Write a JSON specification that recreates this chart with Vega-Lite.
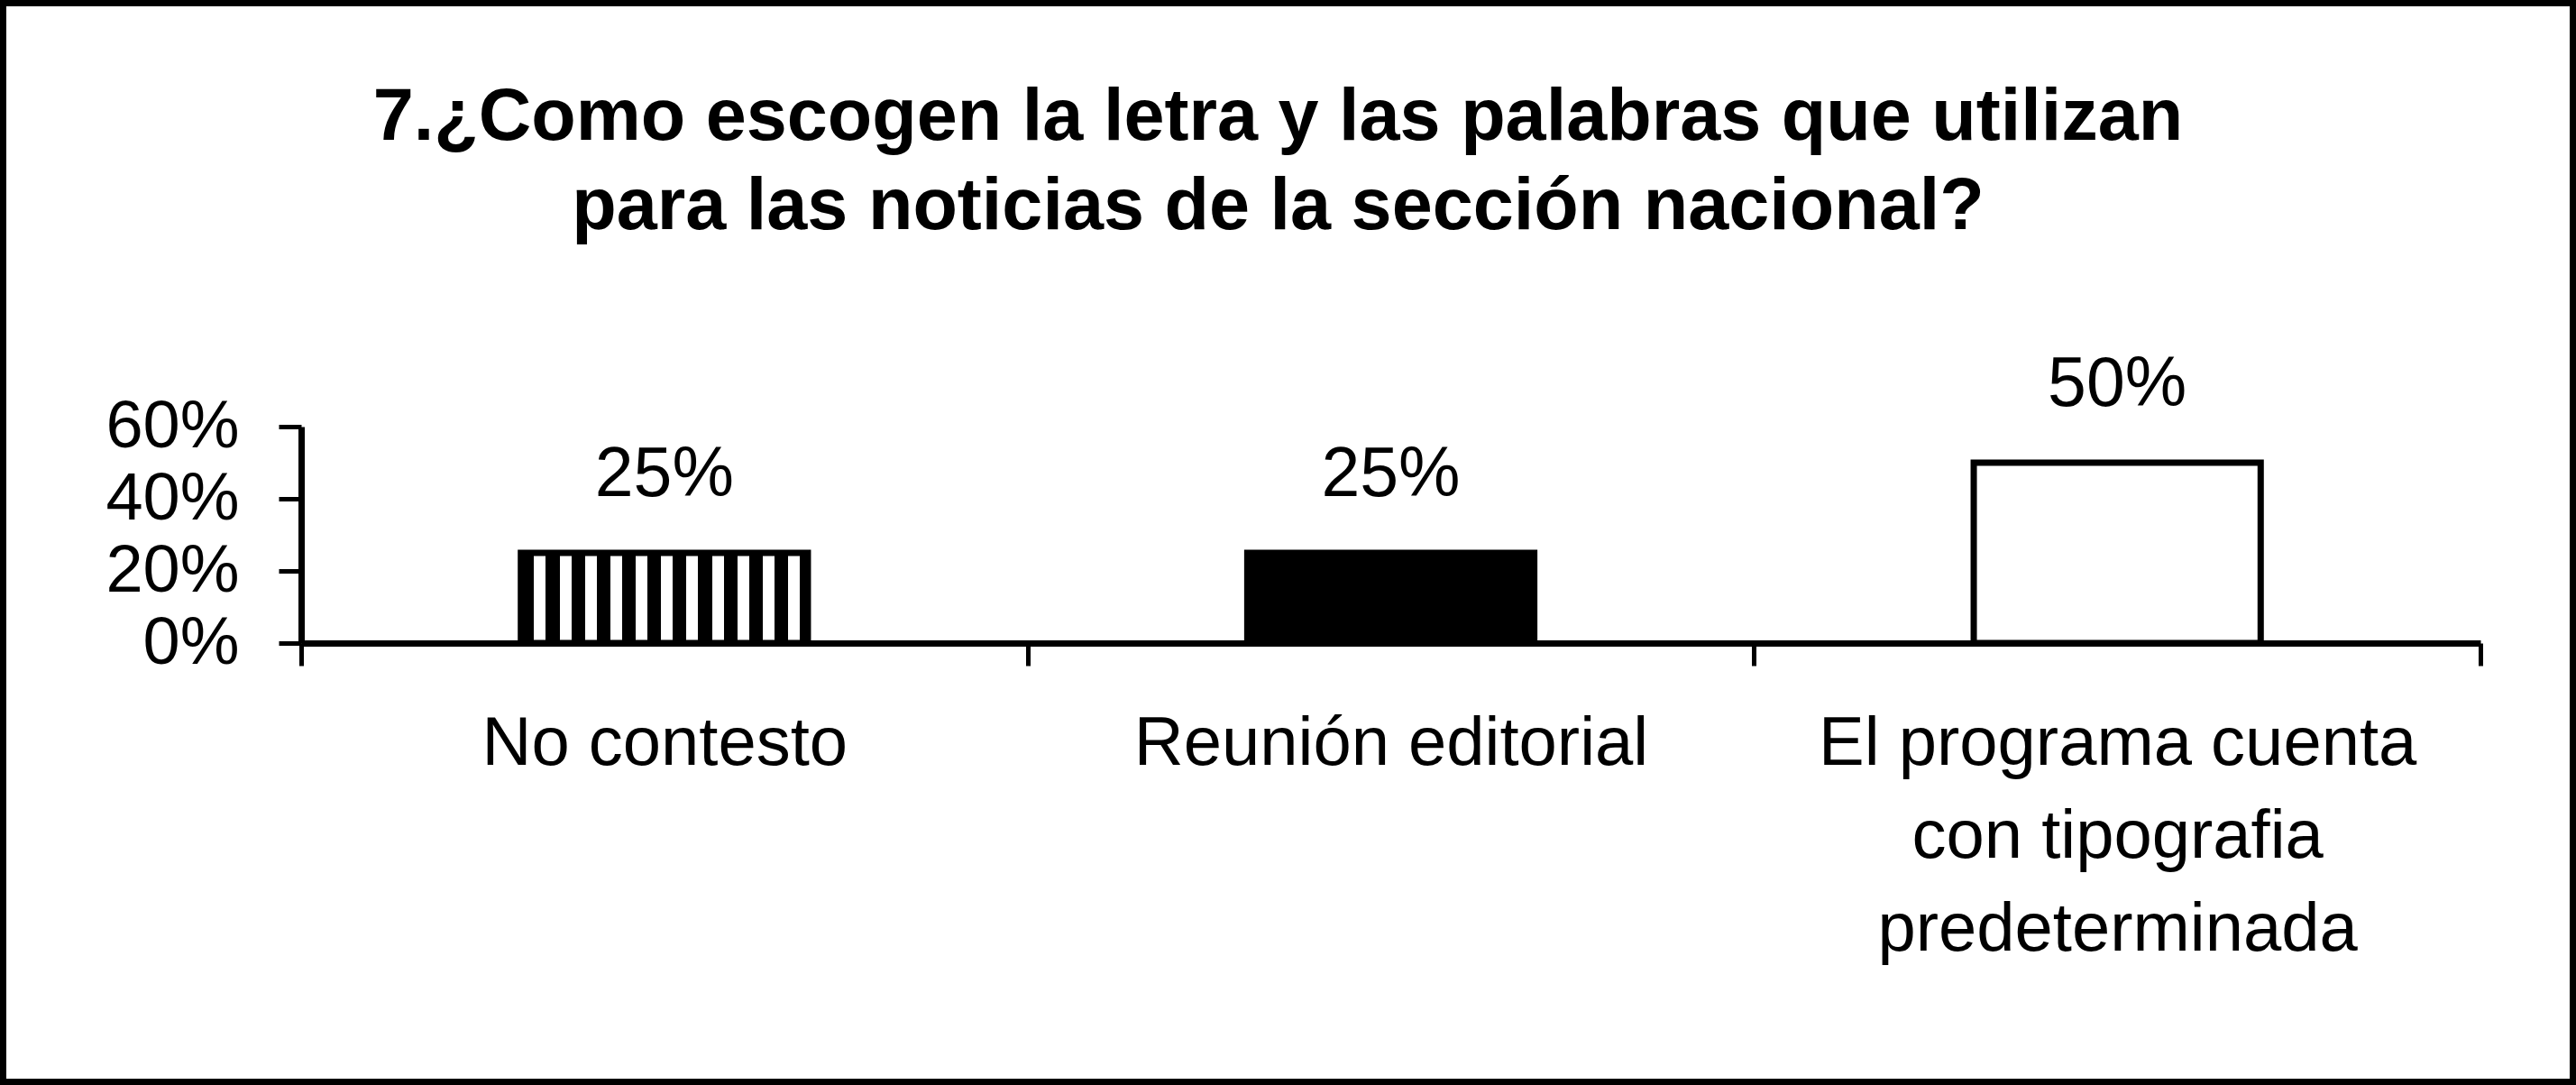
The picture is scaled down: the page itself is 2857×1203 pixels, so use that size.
{
  "$schema": "https://vega.github.io/schema/vega-lite/v6.json",
  "width": 2857,
  "height": 1203,
  "autosize": {"type": "none"},
  "padding": 0,
  "background": "white",
  "title": {
    "text": ["7.¿Como escogen la letra y las palabras que utilizan", "para las noticias de la sección nacional?"],
    "font": "Liberation Sans",
    "fontSize": 81,
    "fontWeight": "bold",
    "color": "#000000",
    "lineHeight": 99,
    "anchor": "middle",
    "frame": "group",
    "baseline": "alphabetic",
    "offset": -335,
    "dx": -11
  },
  "data": {
    "values": [
      {"respuesta": "No contesto", "porcentaje": 0.25},
      {"respuesta": "Reunión editorial", "porcentaje": 0.25},
      {"respuesta": "El programa cuenta con tipografia predeterminada", "porcentaje": 0.5}
    ]
  },
  "encoding": {
    "x": {
      "field": "respuesta",
      "type": "nominal",
      "sort": null,
      "scale": {"range": [334, 2751], "paddingInner": 0, "paddingOuter": 0},
      "axis": {
        "orient": "bottom",
        "offset": -490,
        "title": null,
        "labelAngle": 0,
        "labelFont": "Liberation Sans",
        "labelFontSize": 76,
        "labelColor": "#000000",
        "labelPadding": 49,
        "labelLineHeight": 103,
        "labelBaseline": "top",
        "labelLimit": 2000,
        "labelOverlap": false,
        "labelExpr": "datum.label == 'El programa cuenta con tipografia predeterminada' ? ['El programa cuenta', 'con tipografia', 'predeterminada'] : datum.label",
        "tickBand": "extent",
        "tickSize": 25,
        "tickWidth": 5,
        "tickColor": "#000000",
        "domainWidth": 7,
        "domainColor": "#000000",
        "zindex": 1
      }
    },
    "y": {
      "field": "porcentaje",
      "type": "quantitative",
      "scale": {"domain": [0, 0.6], "range": [713, 473], "nice": false, "zero": true},
      "axis": {
        "orient": "left",
        "offset": -334,
        "title": null,
        "values": [0, 0.2, 0.4, 0.6],
        "format": ".0%",
        "grid": false,
        "labelFont": "Liberation Sans",
        "labelFontSize": 74,
        "labelColor": "#000000",
        "labelPadding": 44,
        "labelOverlap": false,
        "labelFlush": false,
        "tickSize": 25,
        "tickWidth": 5,
        "tickColor": "#000000",
        "domainWidth": 7,
        "domainColor": "#000000",
        "zindex": 1
      }
    }
  },
  "layer": [
    {
      "transform": [{"filter": "datum.respuesta == 'No contesto'"}],
      "mark": {
        "type": "bar",
        "width": {"band": 0.395},
        "stroke": "#000000",
        "strokeWidth": 7,
        "fill": {
          "gradient": "linear",
          "x1": 0, "y1": 0, "x2": 1, "y2": 0,
          "stops": [
            {"offset": 0, "color": "#000000"},
            {"offset": 0.046, "color": "#000000"},
            {"offset": 0.046, "color": "#ffffff"},
            {"offset": 0.087, "color": "#ffffff"},
            {"offset": 0.087, "color": "#000000"},
            {"offset": 0.1345, "color": "#000000"},
            {"offset": 0.1345, "color": "#ffffff"},
            {"offset": 0.1755, "color": "#ffffff"},
            {"offset": 0.1755, "color": "#000000"},
            {"offset": 0.223, "color": "#000000"},
            {"offset": 0.223, "color": "#ffffff"},
            {"offset": 0.264, "color": "#ffffff"},
            {"offset": 0.264, "color": "#000000"},
            {"offset": 0.3115, "color": "#000000"},
            {"offset": 0.3115, "color": "#ffffff"},
            {"offset": 0.3525, "color": "#ffffff"},
            {"offset": 0.3525, "color": "#000000"},
            {"offset": 0.4, "color": "#000000"},
            {"offset": 0.4, "color": "#ffffff"},
            {"offset": 0.441, "color": "#ffffff"},
            {"offset": 0.441, "color": "#000000"},
            {"offset": 0.4885, "color": "#000000"},
            {"offset": 0.4885, "color": "#ffffff"},
            {"offset": 0.5295, "color": "#ffffff"},
            {"offset": 0.5295, "color": "#000000"},
            {"offset": 0.577, "color": "#000000"},
            {"offset": 0.577, "color": "#ffffff"},
            {"offset": 0.618, "color": "#ffffff"},
            {"offset": 0.618, "color": "#000000"},
            {"offset": 0.6655, "color": "#000000"},
            {"offset": 0.6655, "color": "#ffffff"},
            {"offset": 0.7065, "color": "#ffffff"},
            {"offset": 0.7065, "color": "#000000"},
            {"offset": 0.754, "color": "#000000"},
            {"offset": 0.754, "color": "#ffffff"},
            {"offset": 0.795, "color": "#ffffff"},
            {"offset": 0.795, "color": "#000000"},
            {"offset": 0.8425, "color": "#000000"},
            {"offset": 0.8425, "color": "#ffffff"},
            {"offset": 0.8835, "color": "#ffffff"},
            {"offset": 0.8835, "color": "#000000"},
            {"offset": 0.931, "color": "#000000"},
            {"offset": 0.931, "color": "#ffffff"},
            {"offset": 0.972, "color": "#ffffff"},
            {"offset": 0.972, "color": "#000000"},
            {"offset": 1, "color": "#000000"}
          ]
        }
      }
    },
    {
      "transform": [{"filter": "datum.respuesta == 'Reunión editorial'"}],
      "mark": {"type": "bar", "width": {"band": 0.395}, "fill": "#000000", "stroke": "#000000", "strokeWidth": 7}
    },
    {
      "transform": [{"filter": "datum.respuesta == 'El programa cuenta con tipografia predeterminada'"}],
      "mark": {"type": "bar", "width": {"band": 0.395}, "fill": "#ffffff", "stroke": "#000000", "strokeWidth": 7}
    },
    {
      "mark": {
        "type": "text",
        "baseline": "alphabetic",
        "align": "center",
        "dy": -63,
        "font": "Liberation Sans",
        "fontSize": 77,
        "color": "#000000"
      },
      "encoding": {
        "text": {"field": "porcentaje", "type": "quantitative", "format": ".0%"}
      }
    }
  ],
  "config": {
    "view": {"stroke": "#000000", "strokeWidth": 14, "fill": "#ffffff"}
  }
}
